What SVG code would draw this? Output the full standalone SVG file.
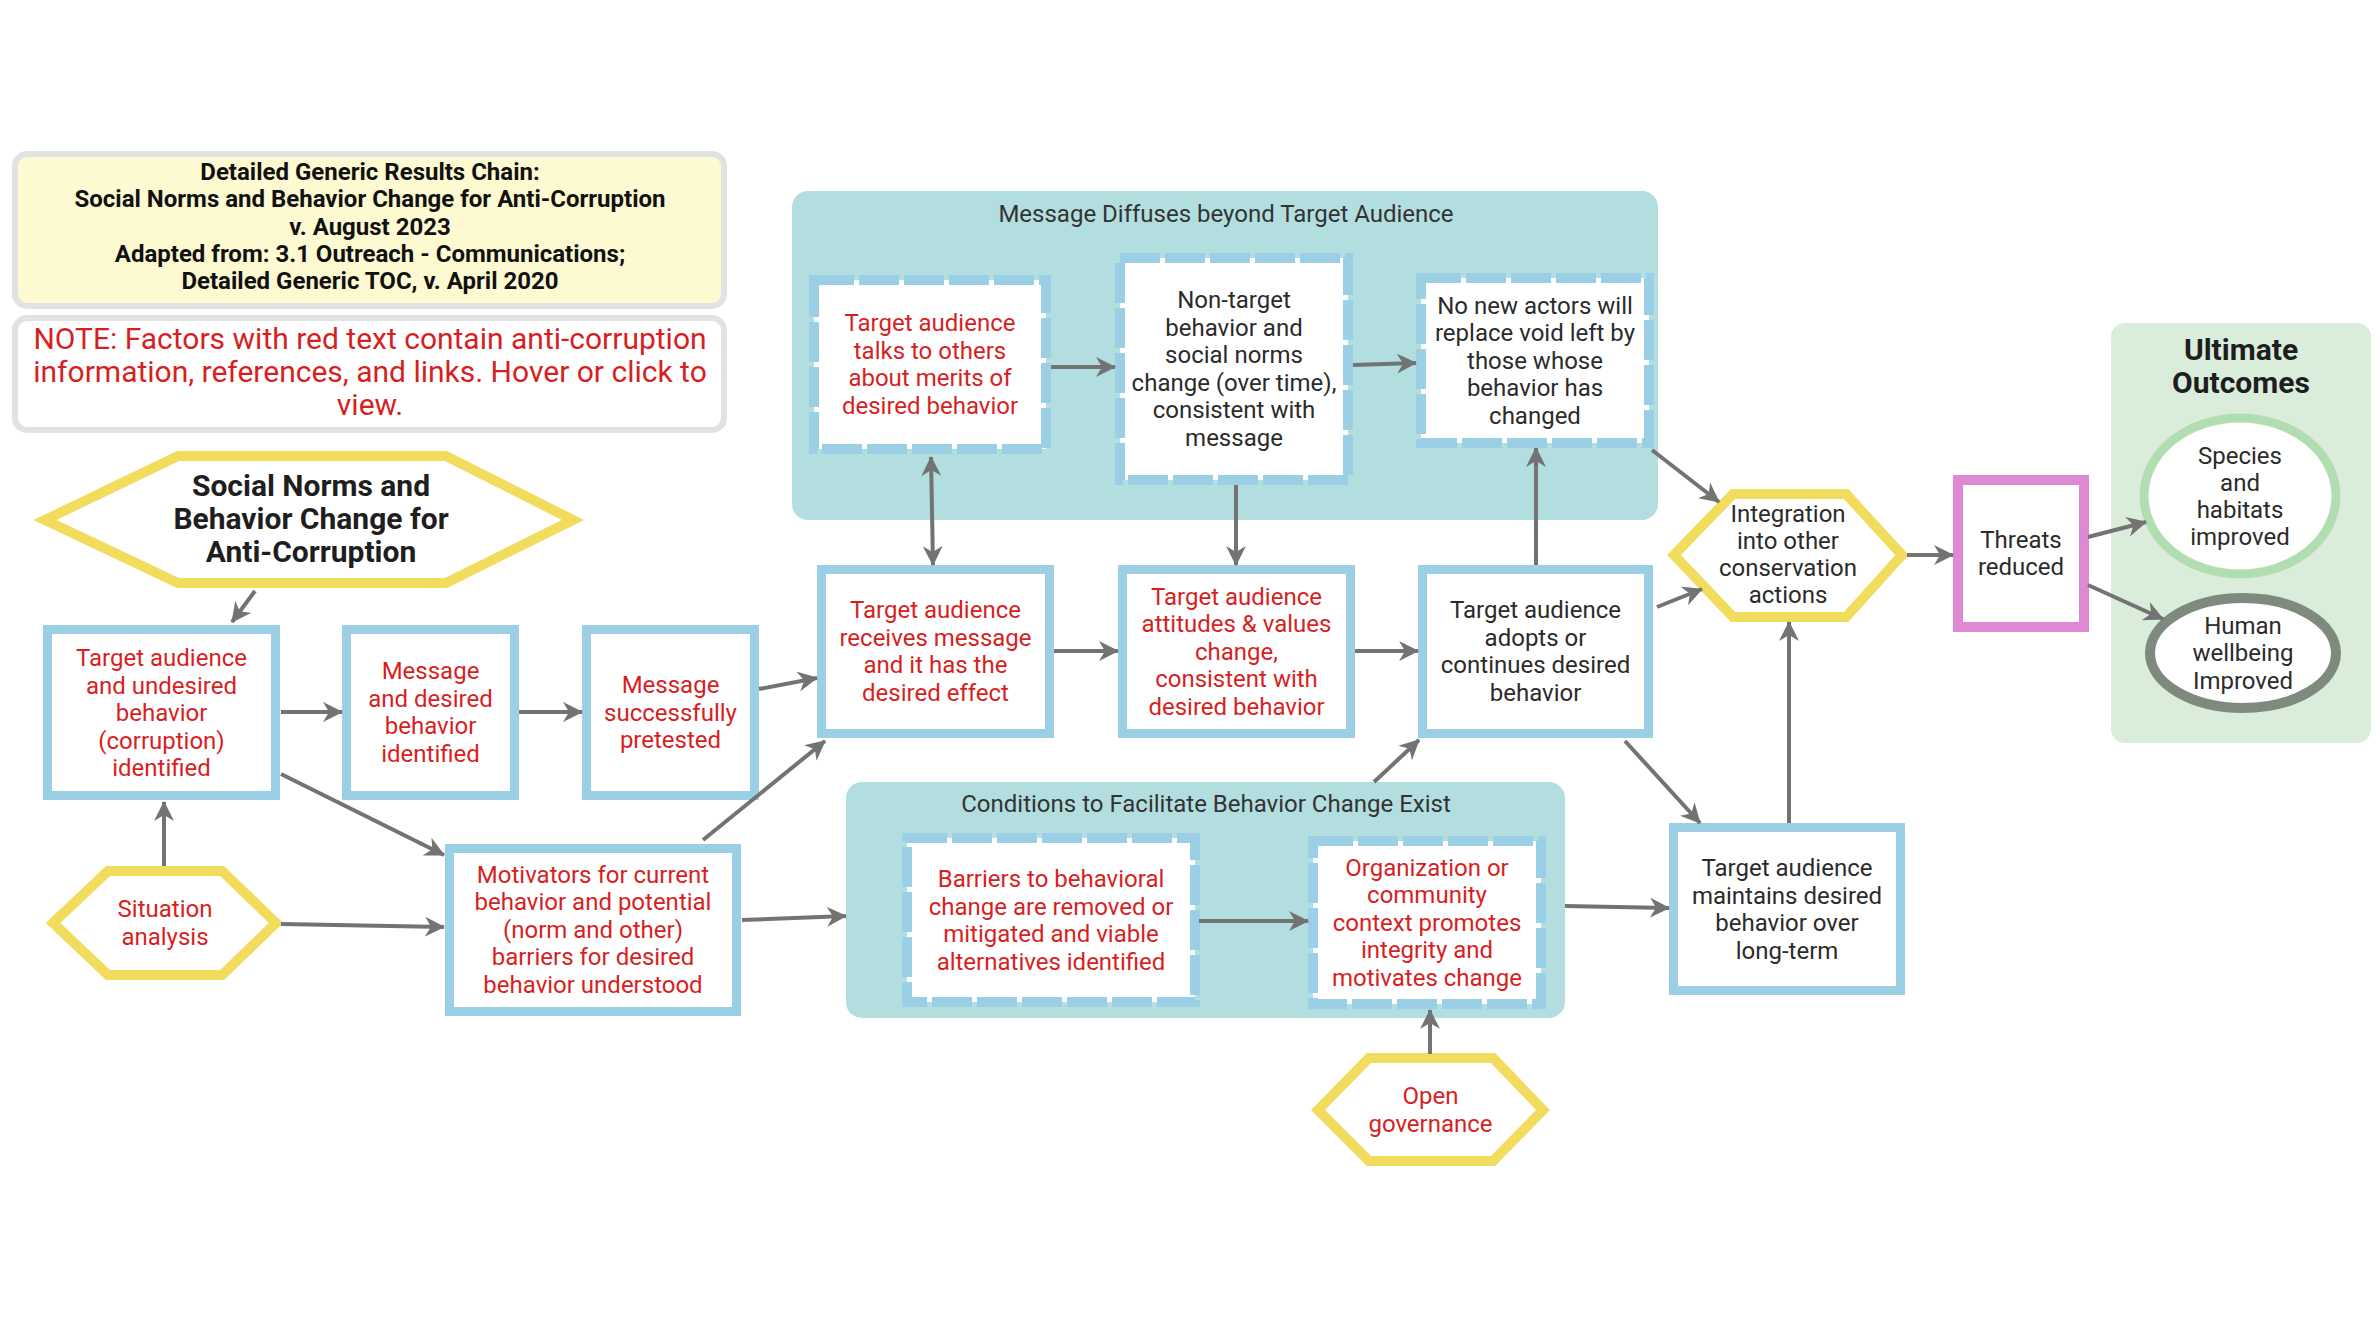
<svg xmlns="http://www.w3.org/2000/svg" width="2380" height="1322" viewBox="0 0 2380 1322">
<defs>
<marker id="ah" markerUnits="userSpaceOnUse" markerWidth="20" markerHeight="20" refX="19" refY="10" orient="auto-start-reverse" viewBox="0 0 20 20">
<path d="M0,0 L20,10 L0,20 L6,10 z" fill="#737373"/>
</marker>
<style>
text{font-family:Roboto,"Liberation Sans",sans-serif;text-anchor:middle}
.n{font-size:24px}
.r{fill:#D71F1F}
.k{fill:#2B2B2B}
.box{fill:#fff;stroke:#9ACFE6;stroke-width:9}
.dash{fill:#fff;stroke:#9ACFE6;stroke-width:10;stroke-dasharray:40 5}
.hex{fill:#fff;stroke:#F2DC5D;stroke-width:10;stroke-linejoin:miter}
.grp{fill:#B3DEE0}
.gt{font-size:24px;fill:#333}
.c line,.c path{stroke:#737373;stroke-width:4;fill:none;marker-end:url(#ah)}
</style>
</defs>
<rect width="2380" height="1322" fill="#fff"/>

<g id="title">
<rect x="15" y="154" width="709" height="152" rx="12" fill="#FDF9D0" stroke="#E2E2E2" stroke-width="6"/>
<text font-size="24" font-weight="bold" fill="#111" x="370" y="180"><tspan x="370">Detailed Generic Results Chain:</tspan><tspan x="370" dy="27.3">Social Norms and Behavior Change for Anti-Corruption</tspan><tspan x="370" dy="27.3">v. August 2023</tspan><tspan x="370" dy="27.3">Adapted from: 3.1 Outreach - Communications;</tspan><tspan x="370" dy="27.3">Detailed Generic TOC, v. April 2020</tspan></text>
</g>
<g id="note">
<rect x="15" y="318" width="709" height="112" rx="12" fill="#fff" stroke="#E2E2E2" stroke-width="6"/>
<text font-size="30" fill="#D71F1F" x="370" y="349"><tspan x="370">NOTE: Factors with red text contain anti-corruption</tspan><tspan x="370" dy="33">information, references, and links. Hover or click to</tspan><tspan x="370" dy="33">view.</tspan></text>
</g>

<g id="grp-diffuse">
<rect class="grp" x="792" y="191" width="866" height="329" rx="16"/>
<text class="gt" x="1226" y="222">Message Diffuses beyond Target Audience</text>
</g>
<g id="grp-conditions">
<rect class="grp" x="846" y="782" width="719" height="236" rx="16"/>
<text class="gt" x="1206" y="812">Conditions to Facilitate Behavior Change Exist</text>
</g>
<g id="grp-ultimate">
<rect x="2111" y="323" width="260" height="420" rx="14" fill="#DAEDDA"/>
<text font-size="30" font-weight="bold" fill="#1E1E1E" x="2241" y="360"><tspan x="2241">Ultimate</tspan><tspan x="2241" dy="33">Outcomes</tspan></text>
</g>

<g id="scope">
<polygon class="hex" points="45,520 178,456 446,456 573,520 446,583 178,583"/>
<text font-size="30" font-weight="bold" fill="#1E1E1E" x="311" y="496"><tspan x="311">Social Norms and</tspan><tspan x="311" dy="33">Behavior Change for</tspan><tspan x="311" dy="33">Anti-Corruption</tspan></text>
</g>

<g id="n-undesired">
<rect class="box" x="47.5" y="629.5" width="228" height="166"/>
<text class="n r" y="666"><tspan x="161.5">Target audience</tspan><tspan x="161.5" dy="27.5">and undesired</tspan><tspan x="161.5" dy="27.5">behavior</tspan><tspan x="161.5" dy="27.5">(corruption)</tspan><tspan x="161.5" dy="27.5">identified</tspan></text>
</g>
<g id="n-message">
<rect class="box" x="346.5" y="629.5" width="168" height="166"/>
<text class="n r" y="679"><tspan x="430.5">Message</tspan><tspan x="430.5" dy="27.5">and desired</tspan><tspan x="430.5" dy="27.5">behavior</tspan><tspan x="430.5" dy="27.5">identified</tspan></text>
</g>
<g id="n-pretested">
<rect class="box" x="586.5" y="629.5" width="168" height="166"/>
<text class="n r" y="693"><tspan x="670.5">Message</tspan><tspan x="670.5" dy="27.5">successfully</tspan><tspan x="670.5" dy="27.5">pretested</tspan></text>
</g>
<g id="n-situation">
<polygon class="hex" points="53,923 108,871 222,871 276,923 222,975 108,975"/>
<text class="n r" y="917"><tspan x="165">Situation</tspan><tspan x="165" dy="27.5">analysis</tspan></text>
</g>
<g id="n-motivators">
<rect class="box" x="449.5" y="848.5" width="287" height="163"/>
<text class="n r" y="882.5"><tspan x="593">Motivators for current</tspan><tspan x="593" dy="27.5">behavior and potential</tspan><tspan x="593" dy="27.5">(norm and other)</tspan><tspan x="593" dy="27.5">barriers for desired</tspan><tspan x="593" dy="27.5">behavior understood</tspan></text>
</g>

<g id="n-talks">
<rect class="dash" x="814" y="280" width="232" height="169"/>
<text class="n r" y="331"><tspan x="930">Target audience</tspan><tspan x="930" dy="27.5">talks to others</tspan><tspan x="930" dy="27.5">about merits of</tspan><tspan x="930" dy="27.5">desired behavior</tspan></text>
</g>
<g id="n-nontarget">
<rect class="dash" x="1120" y="258" width="228" height="222"/>
<text class="n k" y="308"><tspan x="1234">Non-target</tspan><tspan x="1234" dy="27.5">behavior and</tspan><tspan x="1234" dy="27.5">social norms</tspan><tspan x="1234" dy="27.5">change (over time),</tspan><tspan x="1234" dy="27.5">consistent with</tspan><tspan x="1234" dy="27.5">message</tspan></text>
</g>
<g id="n-noactors">
<rect class="dash" x="1421" y="278" width="228" height="165"/>
<text class="n k" y="313.5"><tspan x="1535">No new actors will</tspan><tspan x="1535" dy="27.5">replace void left by</tspan><tspan x="1535" dy="27.5">those whose</tspan><tspan x="1535" dy="27.5">behavior has</tspan><tspan x="1535" dy="27.5">changed</tspan></text>
</g>

<g id="n-receives">
<rect class="box" x="821.5" y="569.5" width="228" height="164"/>
<text class="n r" y="618"><tspan x="935.5">Target audience</tspan><tspan x="935.5" dy="27.5">receives message</tspan><tspan x="935.5" dy="27.5">and it has the</tspan><tspan x="935.5" dy="27.5">desired effect</tspan></text>
</g>
<g id="n-attitudes">
<rect class="box" x="1122.5" y="569.5" width="228" height="164"/>
<text class="n r" y="604.5"><tspan x="1236.5">Target audience</tspan><tspan x="1236.5" dy="27.5">attitudes &amp; values</tspan><tspan x="1236.5" dy="27.5">change,</tspan><tspan x="1236.5" dy="27.5">consistent with</tspan><tspan x="1236.5" dy="27.5">desired behavior</tspan></text>
</g>
<g id="n-adopts">
<rect class="box" x="1422.5" y="569.5" width="226" height="164"/>
<text class="n k" y="618"><tspan x="1535.5">Target audience</tspan><tspan x="1535.5" dy="27.5">adopts or</tspan><tspan x="1535.5" dy="27.5">continues desired</tspan><tspan x="1535.5" dy="27.5">behavior</tspan></text>
</g>

<g id="n-barriers">
<rect class="dash" x="907" y="838" width="288" height="164"/>
<text class="n r" y="887"><tspan x="1051">Barriers to behavioral</tspan><tspan x="1051" dy="27.5">change are removed or</tspan><tspan x="1051" dy="27.5">mitigated and viable</tspan><tspan x="1051" dy="27.5">alternatives identified</tspan></text>
</g>
<g id="n-organization">
<rect class="dash" x="1313" y="841" width="228" height="163"/>
<text class="n r" y="875.5"><tspan x="1427">Organization or</tspan><tspan x="1427" dy="27.5">community</tspan><tspan x="1427" dy="27.5">context promotes</tspan><tspan x="1427" dy="27.5">integrity and</tspan><tspan x="1427" dy="27.5">motivates change</tspan></text>
</g>
<g id="n-opengov">
<polygon class="hex" points="1318,1110 1369,1058 1493,1058 1543,1110 1493,1161 1369,1161"/>
<text class="n r" y="1104"><tspan x="1430.5">Open</tspan><tspan x="1430.5" dy="27.5">governance</tspan></text>
</g>

<g id="n-integration">
<polygon class="hex" points="1674,555 1733,494 1846,494 1902,555 1846,617 1733,617"/>
<text class="n k" y="522"><tspan x="1788">Integration</tspan><tspan x="1788" dy="27">into other</tspan><tspan x="1788" dy="27">conservation</tspan><tspan x="1788" dy="27">actions</tspan></text>
</g>
<g id="n-maintains">
<rect class="box" x="1673.5" y="827.5" width="227" height="163"/>
<text class="n k" y="876"><tspan x="1787">Target audience</tspan><tspan x="1787" dy="27.5">maintains desired</tspan><tspan x="1787" dy="27.5">behavior over</tspan><tspan x="1787" dy="27.5">long-term</tspan></text>
</g>
<g id="n-threats">
<rect x="1958" y="480" width="126" height="147" fill="#fff" stroke="#DF89D4" stroke-width="10"/>
<text class="n k" y="547.5"><tspan x="2021">Threats</tspan><tspan x="2021" dy="27.5">reduced</tspan></text>
</g>
<g id="n-species">
<ellipse cx="2240" cy="496" rx="96" ry="78" fill="#fff" stroke="#B0DEB2" stroke-width="9"/>
<text class="n k" y="463.5"><tspan x="2240">Species</tspan><tspan x="2240" dy="27">and</tspan><tspan x="2240" dy="27">habitats</tspan><tspan x="2240" dy="27">improved</tspan></text>
</g>
<g id="n-human">
<ellipse cx="2243" cy="653" rx="93" ry="55" fill="#fff" stroke="#7F8A7F" stroke-width="10"/>
<text class="n k" y="633.5"><tspan x="2243">Human</tspan><tspan x="2243" dy="27.5">wellbeing</tspan><tspan x="2243" dy="27.5">Improved</tspan></text>
</g>

<g id="connectors" class="c">
<line x1="255" y1="591" x2="232" y2="622"/>
<line x1="164" y1="866" x2="164" y2="802"/>
<line x1="281" y1="712" x2="342" y2="712"/>
<line x1="519" y1="712" x2="582" y2="712"/>
<line x1="759" y1="689" x2="817" y2="678"/>
<line x1="281" y1="774" x2="444" y2="855"/>
<line x1="281" y1="924" x2="444" y2="927"/>
<line x1="703" y1="840" x2="825" y2="741"/>
<line x1="742" y1="920" x2="846" y2="916"/>
<line x1="1199" y1="921" x2="1308" y2="921"/>
<line x1="1430" y1="1054" x2="1430" y2="1010"/>
<line x1="931" y1="457" x2="933" y2="565" style="marker-start:url(#ah)"/>
<line x1="1051" y1="367" x2="1115" y2="367"/>
<line x1="1353" y1="365" x2="1416" y2="363"/>
<line x1="1236" y1="485" x2="1236" y2="565"/>
<line x1="1054" y1="651" x2="1118" y2="651"/>
<line x1="1355" y1="651" x2="1418" y2="651"/>
<line x1="1536" y1="565" x2="1536" y2="448"/>
<line x1="1374" y1="782" x2="1419" y2="740"/>
<line x1="1652" y1="450" x2="1719" y2="502"/>
<line x1="1657" y1="607" x2="1702" y2="589"/>
<line x1="1625" y1="741" x2="1700" y2="823"/>
<line x1="1565" y1="906" x2="1669" y2="908"/>
<line x1="1789" y1="823" x2="1789" y2="622"/>
<line x1="1907" y1="555" x2="1953" y2="555"/>
<line x1="2088" y1="537" x2="2146" y2="522"/>
<line x1="2088" y1="585" x2="2163" y2="619"/>
</g>
</svg>
